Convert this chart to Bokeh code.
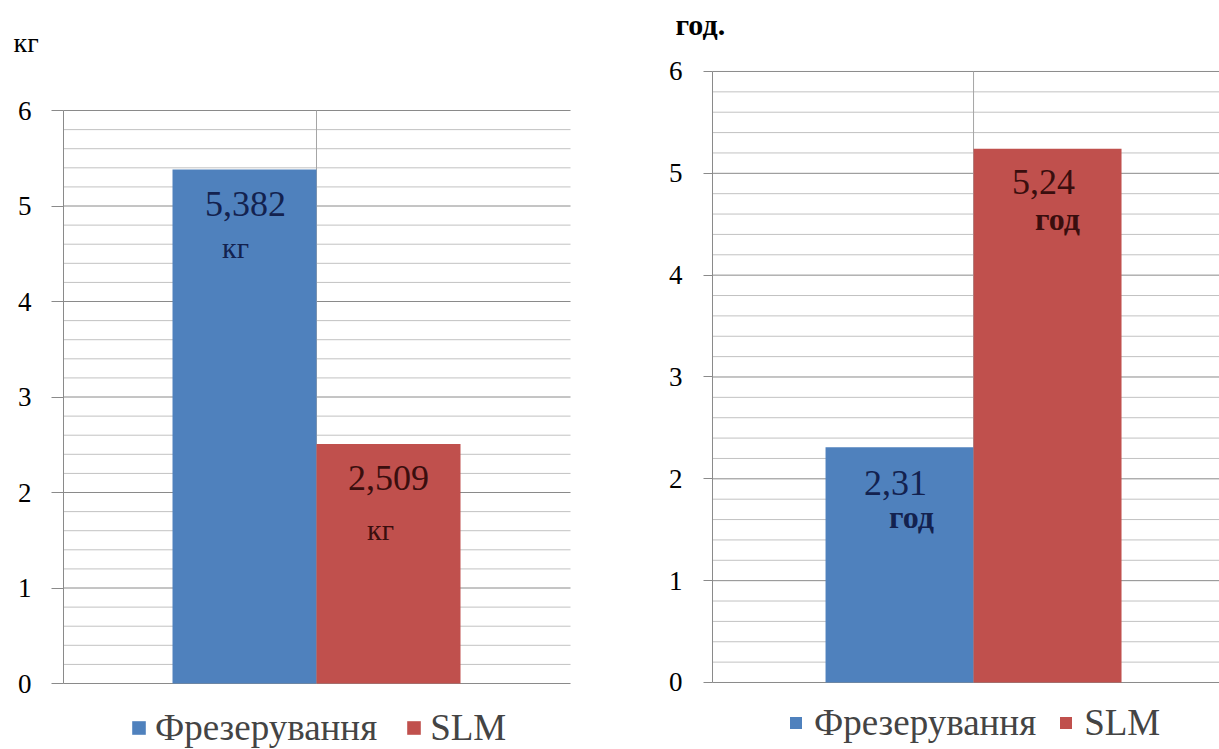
from bokeh.plotting import figure
from bokeh.layouts import row
from bokeh.models import (SingleIntervalTicker, Legend, LegendItem, Label,
                          ColumnDataSource)
from bokeh.embed import file_html
from bokeh.resources import INLINE

# ---- data ----
series = ["Фрезерування", "SLM"]
mass_values = [5.382, 2.509]
mass_axis_unit = "кг"
mass_label_unit = "кг"
time_values = [2.31, 5.24]
time_axis_unit = "год."
time_label_unit = "год"
y_min, y_max = 0, 6
minor_per_major = 5

bar_colors = ["#4f81bd", "#c0504d"]
text_colors = ["#13224f", "#3a0e0e"]
FONT = "Liberation Serif"


def fmt(v):
    return f"{v:g}".replace(".", ",")


def make_chart(values, axis_unit, label_unit, *, width, height, x_range, y_range,
               grid_end, bar_start, unit_xy, unit_bold, unit_offsets, num_offset,
               legend_loc, tick_len, standoff, unit_size, axis_unit_size,
               glyph, legend_standoff, legend_spacing):
    p = figure(frame_width=width, frame_height=height,
               min_border_left=0, min_border_top=0, min_border_right=0,
               min_border_bottom=0, x_range=x_range, y_range=y_range,
               x_axis_location=None, output_backend="svg", toolbar_location=None)
    p.outline_line_color = None
    p.background_fill_color = "white"
    p.border_fill_color = "white"
    p.xgrid.visible = False
    p.ygrid.visible = False

    # gridlines (minor light, major darker) spanning the plot area only
    n = (y_max - y_min) * minor_per_major
    gy = [y_min + k / minor_per_major for k in range(n + 1)]
    minor_y = [y for k, y in enumerate(gy) if k % minor_per_major]
    major_y = [y for k, y in enumerate(gy) if not k % minor_per_major]
    p.segment(x0=[0] * len(minor_y), x1=[grid_end] * len(minor_y), y0=minor_y,
              y1=minor_y, line_color="#c2c2c2", line_width=1)
    p.segment(x0=[0] * len(major_y), x1=[grid_end] * len(major_y), y0=major_y,
              y1=major_y, line_color="#8a8a8a", line_width=1)
    # vertical gridline at the boundary between the two bars
    p.segment(x0=[bar_start + 1], x1=[bar_start + 1], y0=[y_min], y1=[y_max],
              line_color="#a6a6a6", line_width=1)

    ticker = SingleIntervalTicker(interval=1, num_minor_ticks=minor_per_major)
    ax = p.yaxis[0]
    ax.ticker = ticker
    ax.fixed_location = 0
    ax.bounds = (y_min, y_max)
    ax.major_label_text_font = FONT
    ax.major_label_text_font_size = "27px"
    ax.major_label_text_color = "#000000"
    ax.axis_line_color = "#8a8a8a"
    ax.major_tick_line_color = "#8a8a8a"
    ax.major_tick_out = tick_len
    ax.major_tick_in = 0
    ax.minor_tick_line_color = None
    ax.major_label_standoff = standoff

    items = []
    for i, (name, v) in enumerate(zip(series, values)):
        xc = bar_start + i + 0.5
        src = ColumnDataSource(dict(x=[xc], top=[v]))
        r = p.vbar(x="x", top="top", width=1.0, bottom=0, source=src,
                   fill_color=bar_colors[i], line_color=None)
        items.append(LegendItem(label=name, renderers=[r]))
        nx, ny = num_offset[i]
        p.add_layout(Label(x=xc, y=v, text=fmt(v), x_offset=nx, y_offset=-ny,
                           text_font=FONT, text_font_size="36px",
                           text_color=text_colors[i], text_align="center",
                           text_baseline="middle"))
        ux, uy = unit_offsets[i]
        p.add_layout(Label(x=xc, y=v, text=label_unit, x_offset=ux, y_offset=-uy,
                           text_font=FONT, text_font_size=unit_size,
                           text_font_style="bold" if unit_bold else "normal",
                           text_color=text_colors[i], text_align="center",
                           text_baseline="middle"))

    ux, uy = unit_xy
    p.add_layout(Label(x=ux, y=uy, text=axis_unit, text_font=FONT,
                       text_font_size=axis_unit_size,
                       text_font_style="bold" if unit_bold else "normal",
                       text_color="#000000", text_align="left",
                       text_baseline="middle"))

    legend = Legend(items=items, orientation="horizontal", location=legend_loc,
                    glyph_width=glyph, glyph_height=glyph, label_text_font=FONT,
                    label_text_font_size="37px", label_standoff=legend_standoff,
                    spacing=legend_spacing, padding=0, margin=0,
                    border_line_color=None, background_fill_alpha=0)
    p.add_layout(legend, "center")
    return p


left = make_chart(mass_values, mass_axis_unit, mass_label_unit,
                  width=610, height=749, x_range=(-0.4375, 3.7986),
                  y_range=(-0.691, 7.152), grid_end=3.521, bar_start=0.757,
                  unit_xy=(-0.347, 6.712), unit_bold=False,
                  unit_offsets=[(-9, 78), (-8, 86)], num_offset=[(1, 34), (0, 34)],
                  legend_loc=(130, 0), tick_len=12, standoff=20, unit_size="30px",
                  axis_unit_size="28px", glyph=17, legend_standoff=8,
                  legend_spacing=28)

right = make_chart(time_values, time_axis_unit, time_label_unit,
                   width=609, height=749, x_range=(-0.689, 3.426),
                   y_range=(-0.658, 6.697), grid_end=3.6, bar_start=0.764,
                   unit_xy=(-0.25, 6.462), unit_bold=True,
                   unit_offsets=[(12, 70), (10, 70)], num_offset=[(-4, 36), (-4, 33)],
                   legend_loc=(178, 5), tick_len=9, standoff=21, unit_size="32px",
                   axis_unit_size="30px", glyph=15, legend_standoff=11,
                   legend_spacing=22)

layout = row(left, right, spacing=0)
open("out.html", "w").write(file_html(layout, INLINE))
